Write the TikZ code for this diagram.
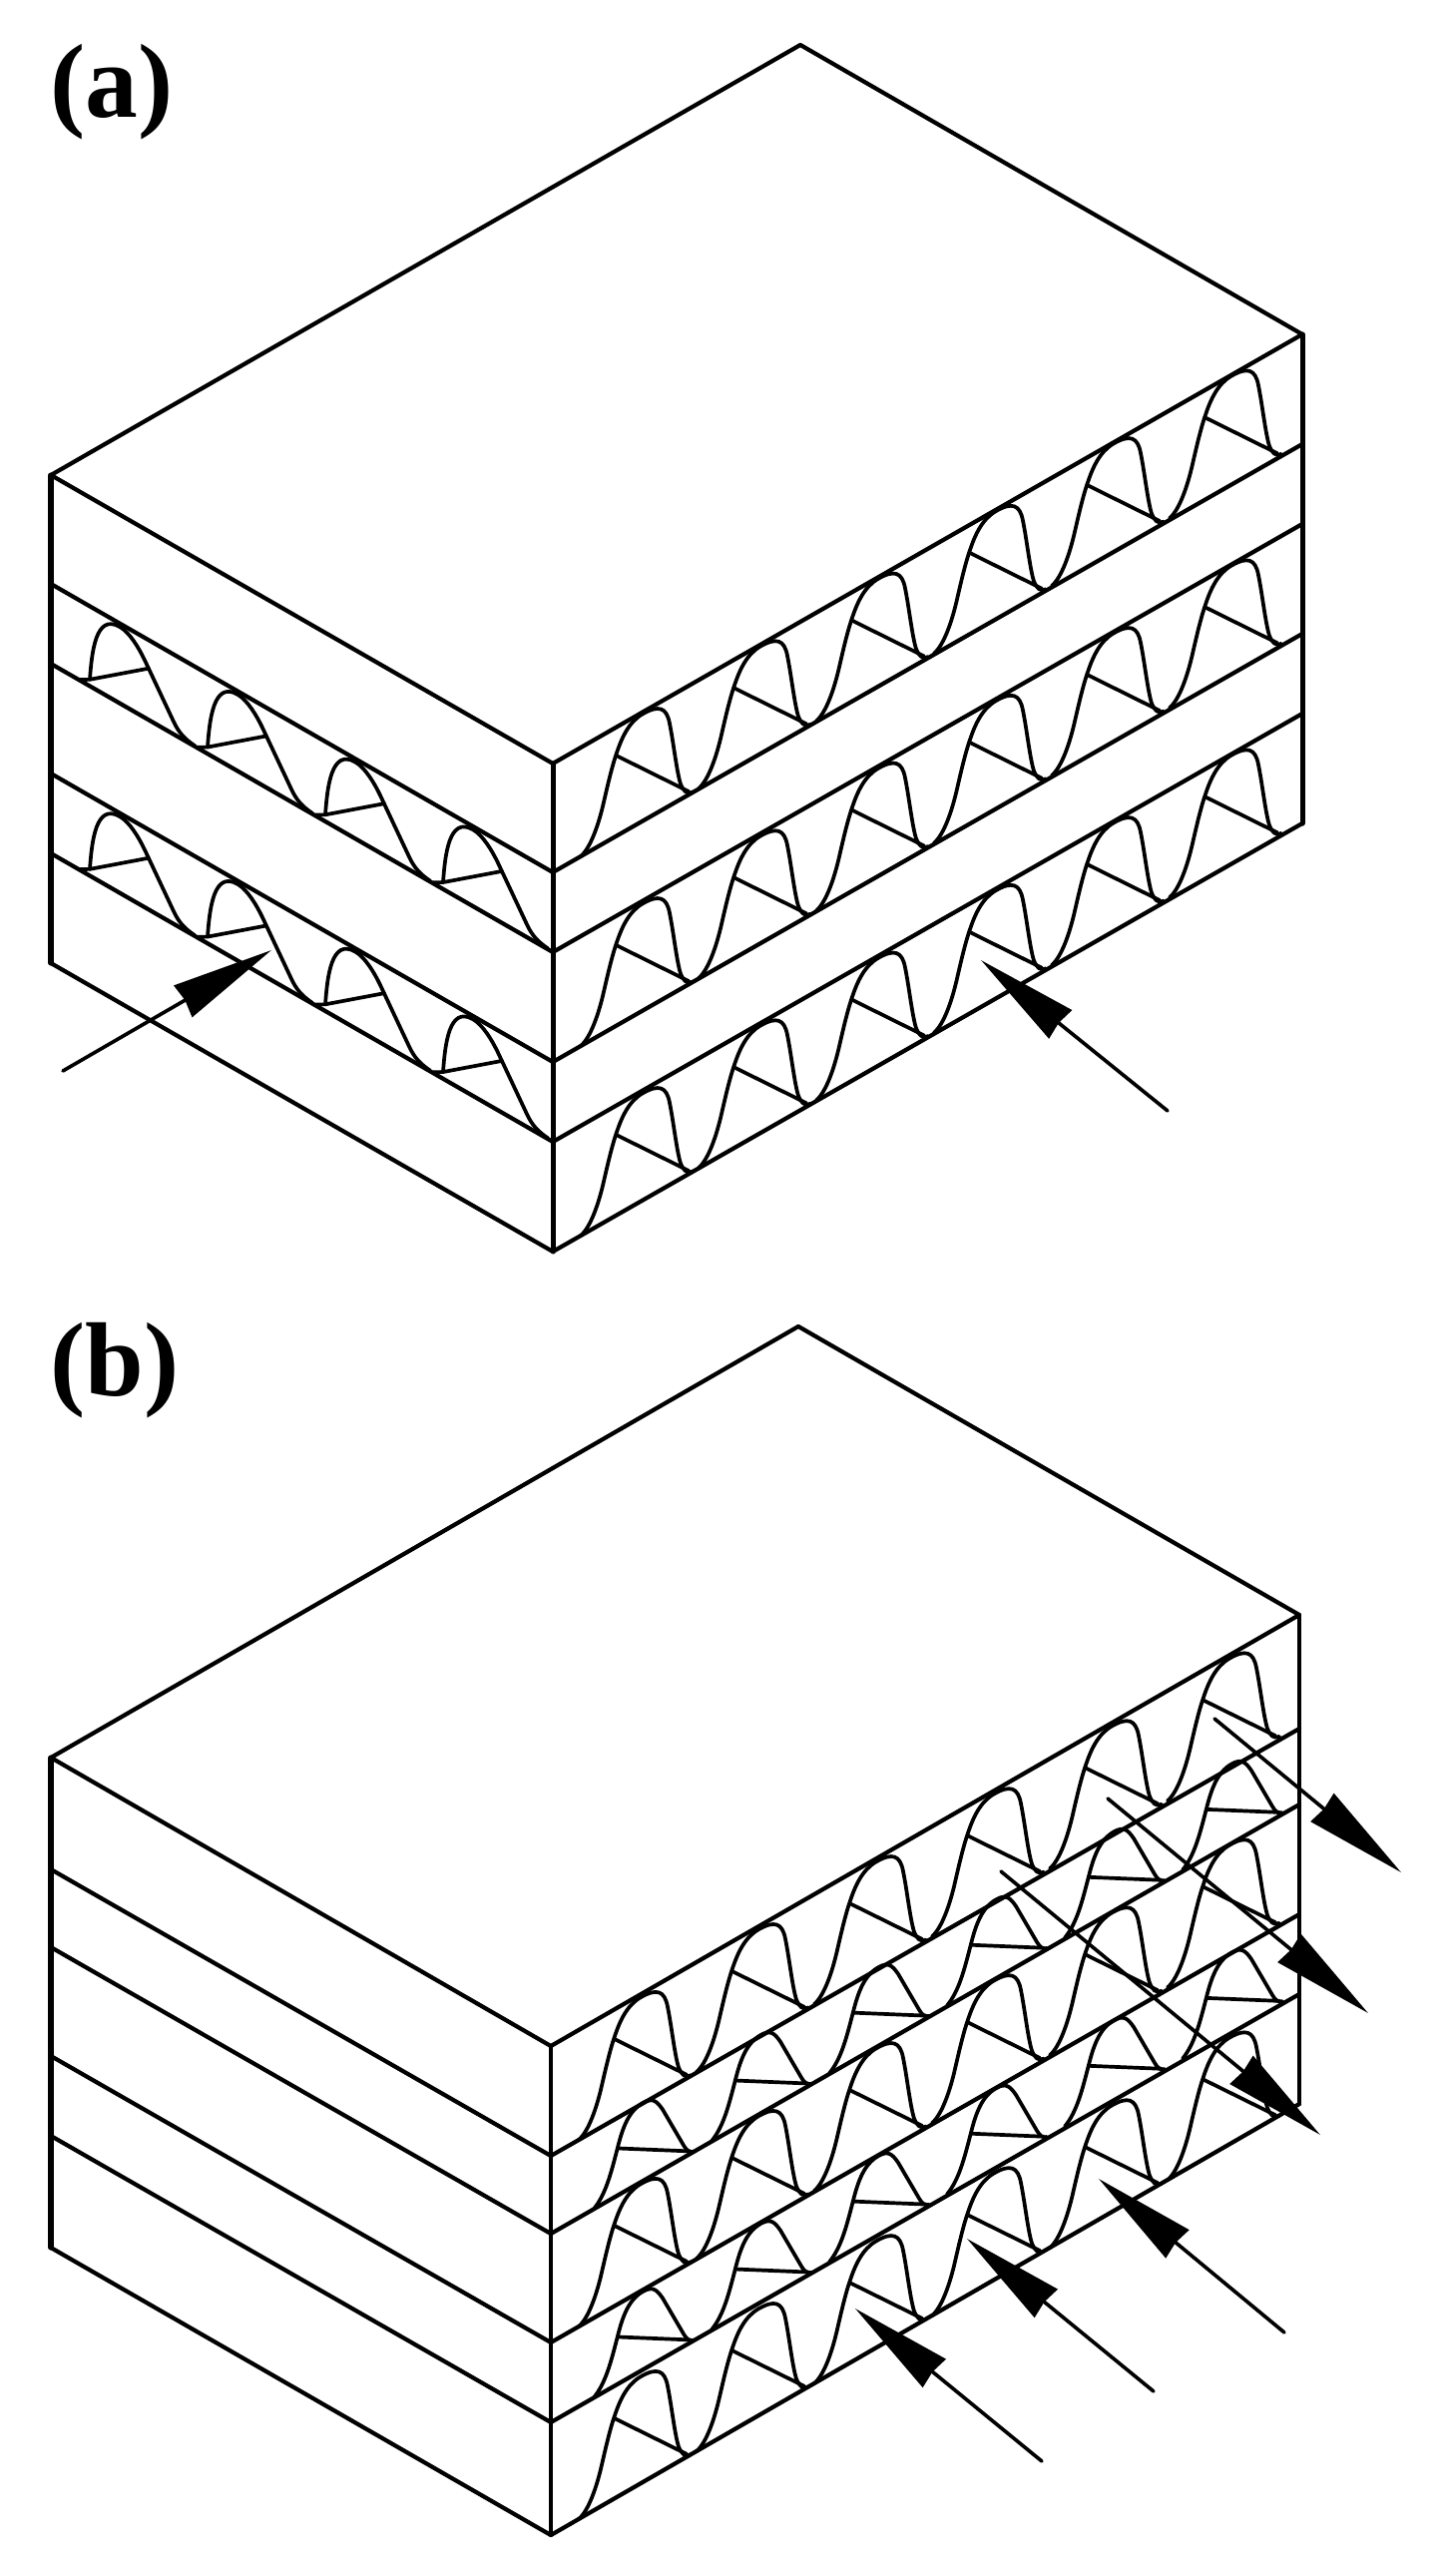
\documentclass[tikz,border=0pt]{standalone}
\usepackage{fontspec}
\setmainfont{Liberation Serif}
\usetikzlibrary{arrows.meta}

\begin{document}
\begin{tikzpicture}[x=0.01cm, y=-0.01cm, line join=round, line cap=round]

    % Define the styles
    \tikzstyle{sheet} = [line width=0.042cm]
    \tikzstyle{post} = [line width=0.05cm]
    \tikzstyle{flute} = [line width=0.037cm]
    \tikzstyle{arrow} = [-{Stealth[length=1.02cm, width=0.36cm, inset=0.02cm]}, line width=0.036cm]
    \tikzstyle{tag} = [anchor=base west, inner sep=0pt, font=\fontsize{30}{30}\selectfont\bfseries]
    \tikzset{
        tall/.pic={
            \draw [flute] (28,0) .. controls (38,3) and (46,22) .. (51,41) .. controls (56,60) and (60,74) .. (64,83)
                .. controls (69,95) and (76,107) .. (90,107) .. controls (106,107) and (114,100) .. (117,82)
                .. controls (121,60) and (124,30) .. (128,15) .. controls (131,6) and (134,1) .. (140,0);
            \draw [flute] (64,80) -- (136,3);
        },
        low/.pic={
            \draw [flute] (43,0) .. controls (55,8) and (60,25) .. (67,48) .. controls (72,65) and (78,78) .. (92,78)
                .. controls (102,78) and (106,72) .. (112,60) -- (133,12) .. controls (136,5) and (139,1) .. (143,0);
            \draw [flute] (67,47) -- (140,2);
        },
        side/.pic={
            \draw [flute] (28,0) -- (38,6) .. controls (40,35) and (44,76) .. (68,76) .. controls (78,76) and (87,66) .. (93,57)
                -- (122,12) .. controls (127,4) and (133,1) .. (143,0);
            \draw [flute] (38,6) -- (97,51);
        }
    }

    \useasboundingbox (0,0) rectangle (1451,2581);

    % Labels
    \node (taga) [tag] at (50,117) {(a)};
    \node (tagb) [tag] at (50,1398) {(b)};

    % Block a
    \coordinate (aapex) at (802,45);
    \coordinate (aleft) at (51,476);
    \coordinate (afront) at (554,765);
    \coordinate (aright) at (1305,335);
    \coordinate (aleftend) at (51,965);
    \coordinate (afrontend) at (554,1254);
    \coordinate (arightend) at (1305,825);
    \draw [sheet] (aleft) -- (aapex) -- (aright) -- (afront) -- cycle;
    \draw [post] (aleft) -- (aleftend);
    \draw [post] (afront) -- (afrontend);
    \draw [post] (aright) -- (arightend);
    \draw [sheet] (aleftend) -- (afrontend) -- (arightend);
    \foreach \yl/\yf/\yr in {585/874/445, 665/954/525, 775/1064/635, 855/1144/715} {
        \draw [sheet] (51,\yl) -- (554,\yf) -- (1305,\yr);
    }
    \foreach \yf in {874, 1064, 1254} {
        \begin{scope}[shift={(554,\yf)}, x={(0.01cm,0.00573cm)}, y={(0cm,0.01cm)}]
            \foreach \p in {0,...,5} {
                \pic at (118*\p,0) {tall};
            }
        \end{scope}
    }
    \foreach \yl in {665, 855} {
        \begin{scope}[shift={(52,\yl)}, x={(0.01cm,-0.00573cm)}, y={(0cm,0.01cm)}]
            \foreach \p in {0,...,3} {
                \pic at (118*\p,0) {side};
            }
        \end{scope}
    }

    % Block b
    \coordinate (bapex) at (800,1329);
    \coordinate (bleft) at (51,1761);
    \coordinate (bfront) at (552,2050);
    \coordinate (bright) at (1302,1618);
    \coordinate (bleftend) at (51,2252);
    \coordinate (bfrontend) at (552,2540);
    \coordinate (brightend) at (1302,2108);
    \draw [sheet] (bleft) -- (bapex) -- (bright) -- (bfront) -- cycle;
    \draw [post] (bleft) -- (bleftend);
    \draw [sheet] (bfront) -- (bfrontend);
    \draw [sheet] (bright) -- (brightend);
    \draw [sheet] (bleftend) -- (bfrontend) -- (brightend);
    \foreach \yl/\yf/\yr in {1873/2160/1732, 1951/2238/1808, 2060/2347/1918, 2140/2427/1998} {
        \draw [sheet] (51,\yl) -- (552,\yf) -- (1302,\yr);
    }
    \foreach \yf in {2160, 2347, 2540} {
        \begin{scope}[shift={(552,\yf)}, x={(0.01cm,0.00576cm)}, y={(0cm,0.01cm)}]
            \foreach \p in {0,...,5} {
                \pic at (118*\p,0) {tall};
            }
        \end{scope}
    }
    \foreach \yf in {2238, 2427} {
        \begin{scope}[shift={(552,\yf)}, x={(0.01cm,0.00576cm)}, y={(0cm,0.01cm)}]
            \foreach \p in {0,...,5} {
                \pic at (118*\p,0) {low};
            }
        \end{scope}
    }

    % Arrows
    \coordinate (in1) at (63,1073);
    \coordinate (hit1) at (272,952);
    \coordinate (in2) at (1170,1113);
    \coordinate (hit2) at (983,962);
    \draw [arrow] (in1) -- (hit1);
    \draw [arrow] (in2) -- (hit2);

    \coordinate (in3) at (1044,2466);
    \coordinate (hit3) at (857,2313);
    \coordinate (in4) at (1156,2396);
    \coordinate (hit4) at (969,2243);
    \coordinate (in5) at (1287,2337);
    \coordinate (hit5) at (1101,2183);
    \draw [arrow] (in3) -- (hit3);
    \draw [arrow] (in4) -- (hit4);
    \draw [arrow] (in5) -- (hit5);

    \coordinate (out1) at (1217,1722);
    \coordinate (end1) at (1404,1876);
    \coordinate (out2) at (1110,1802);
    \coordinate (end2) at (1371,2017);
    \coordinate (out3) at (1003,1875);
    \coordinate (end3) at (1323,2139);
    \draw [arrow] (out1) -- (end1);
    \draw [arrow] (out2) -- (end2);
    \draw [arrow] (out3) -- (end3);

\end{tikzpicture}
\end{document}
